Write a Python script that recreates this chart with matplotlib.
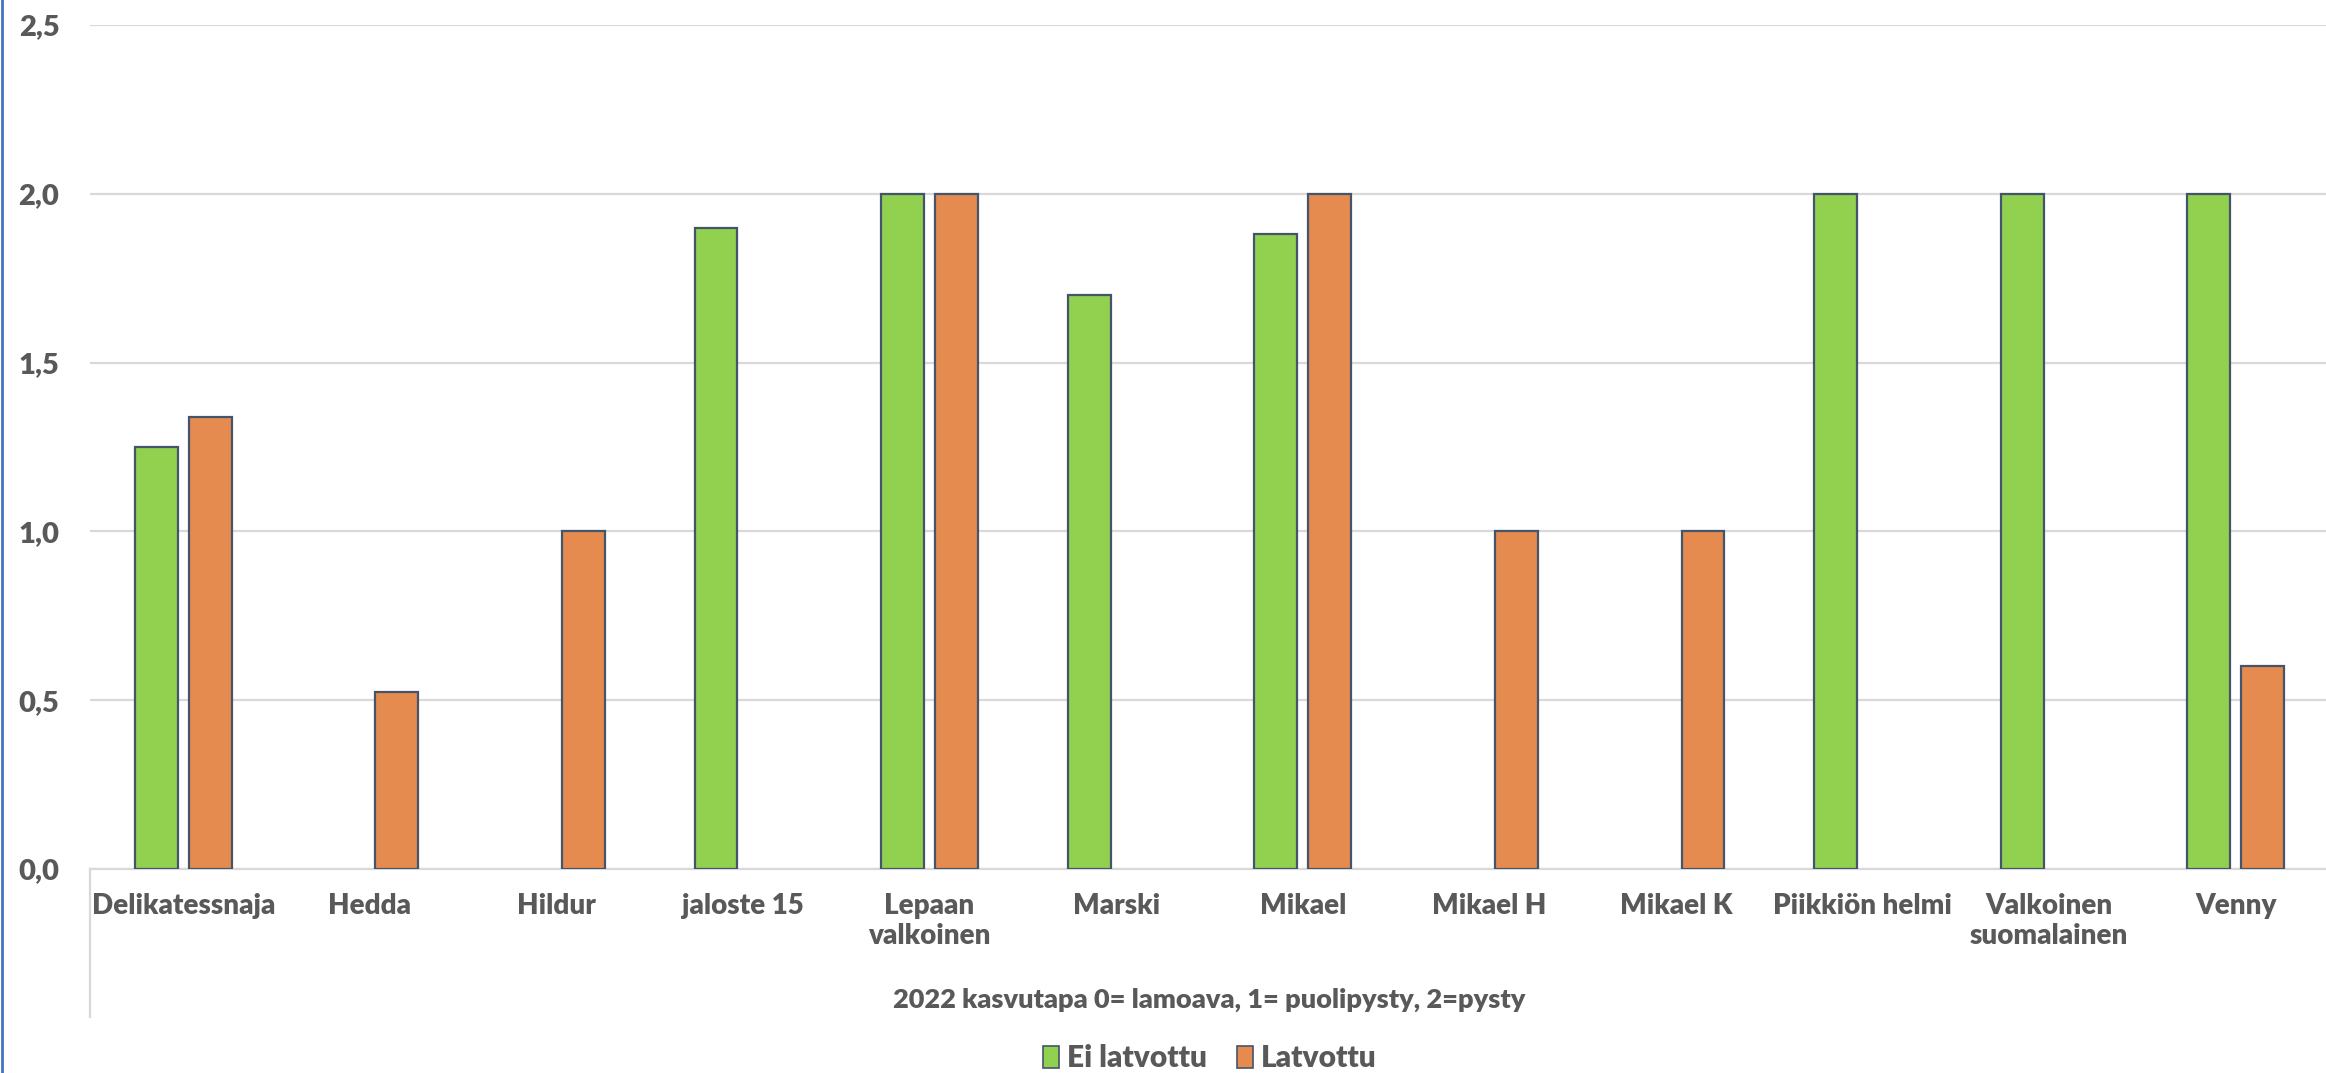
import numpy as np
import matplotlib
matplotlib.use("Agg")
import matplotlib.pyplot as plt
from matplotlib.patches import Patch
from matplotlib.lines import Line2D

categories = ["Delikatessnaja", "Hedda", "Hildur", "jaloste 15", "Lepaan\nvalkoinen",
              "Marski", "Mikael", "Mikael H", "Mikael K", "Piikkiön helmi",
              "Valkoinen\nsuomalainen", "Venny"]
ei_latvottu = [1.25, None, None, 1.90, 2.00, 1.70, 1.88, None, None, 2.00, 2.00, 2.00]
latvottu = [1.34, 0.525, 1.00, None, 2.00, None, 2.00, 1.00, 1.00, None, None, 0.60]
series_names = ["Ei latvottu", "Latvottu"]
y_ticks = [0.0, 0.5, 1.0, 1.5, 2.0, 2.5]
y_ticklabels = ["0,0", "0,5", "1,0", "1,5", "2,0", "2,5"]
axis_title = "2022 kasvutapa 0= lamoava, 1= puolipysty, 2=pysty"

GREEN = "#92D050"
ORANGE = "#E68B4F"
EDGE = "#44546A"
TEXT = "#595959"
GRID = "#D9D9D9"
FONT = ["Lato", "DejaVu Sans"]
WEIGHT = "heavy"

plt.rcParams["font.family"] = FONT

W, H = 2326, 1073
fig = plt.figure(figsize=(W / 100, H / 100), dpi=100)
x0, x1 = 90, 2329
y_top, y_bot = 25, 869
ax = fig.add_axes([x0 / W, 1 - y_bot / H, (x1 - x0) / W, (y_bot - y_top) / H])

def to_arr(v):
    return np.array([np.nan if a is None else a for a in v], dtype=float)

x = np.arange(len(categories))
bw = 0.23
off = 0.145
ax.bar(x - off, to_arr(ei_latvottu), width=bw, color=GREEN, edgecolor=EDGE, linewidth=1.6, zorder=3)
ax.bar(x + off, to_arr(latvottu), width=bw, color=ORANGE, edgecolor=EDGE, linewidth=1.6, zorder=3)

ax.set_xlim(-0.5, len(categories) - 0.5)
ax.set_ylim(0, 2.5)
ax.set_yticks(y_ticks)
ax.set_yticklabels(y_ticklabels, fontsize=21, fontweight=WEIGHT, color=TEXT)
ax.yaxis.grid(True, color=GRID, linewidth=1.6, zorder=0)
ax.set_axisbelow(True)
for s in ["top", "right", "left"]:
    ax.spines[s].set_visible(False)
ax.spines["bottom"].set_color(GRID)
ax.spines["bottom"].set_linewidth(1.6)
ax.tick_params(axis="y", length=0, pad=22)
ax.set_xticks(x)
ax.set_xticklabels(categories, fontsize=20, fontweight=WEIGHT, color=TEXT, linespacing=1.2)
ax.tick_params(axis="x", length=0, pad=17)

# category axis left divider
fig.add_artist(Line2D([x0 / W, x0 / W], [1 - y_bot / H, 1 - 1017 / H],
                      color=GRID, linewidth=1.6, transform=fig.transFigure))

# axis title
fig.text(((x0 + x1) / 2) / W, 1 - 1000 / H, axis_title, ha="center", va="center",
         fontsize=19.5, fontweight=WEIGHT, color=TEXT)

# legend
handles = [Patch(facecolor=GREEN, edgecolor=EDGE, linewidth=1.2),
           Patch(facecolor=ORANGE, edgecolor=EDGE, linewidth=1.2)]
leg = fig.legend(handles, series_names, loc="center", bbox_to_anchor=(((x0 + x1) / 2) / W, 1 - 1058 / H),
                 ncol=2, frameon=False, fontsize=21.5, handlelength=0.55, handleheight=0.75,
                 handletextpad=0.25, columnspacing=1.0, borderpad=0.1)
for t in leg.get_texts():
    t.set_color(TEXT)
    t.set_fontweight(WEIGHT)

# left blue frame line
fig.add_artist(Line2D([2 / W, 2 / W], [0, 1], color="#4472C4", linewidth=2, transform=fig.transFigure))

fig.savefig("out.png", dpi=100, facecolor="white")
